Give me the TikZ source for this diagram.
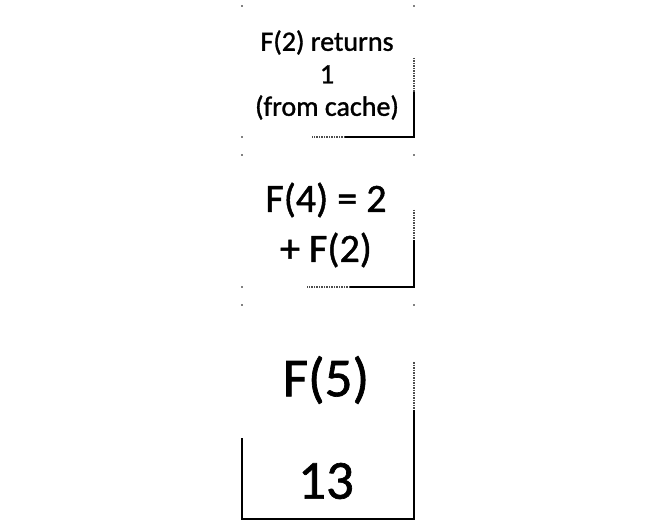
\documentclass[tikz,border=0pt]{standalone}
\usepackage{fontspec}
\setmainfont[FakeBold=1.2]{Carlito}
\begin{document}
\begin{tikzpicture}[x=1pt,y=-1pt,
  edge/.style={line width=1.4pt,black},
  faint/.style={line width=1.1pt,black!70,dash pattern=on 1.5pt off 1pt},
  cornerdot/.style={fill=black,inner sep=0pt,minimum size=1.8pt,circle},
  txt/.style={inner sep=0pt,align=center,text=black}]
\useasboundingbox (0,0) rectangle (654,524);
% corner dots
\foreach \x/\y in {242/6,414/6,242/137,242/155,414/155,242/287,242/305,414/305}
  \node[cornerdot] at (\x,\y) {};
% box 1
\draw[faint] (414,58) -- (414,92);
\draw[edge] (414,92) -- (414,137) -- (345,137);
\draw[faint] (345,137) -- (312,137);
% box 2
\draw[faint] (414,210) -- (414,240);
\draw[edge] (414,240) -- (414,287) -- (350,287);
\draw[faint] (350,287) -- (307,287);
% box 3
\draw[faint] (414,362) -- (414,410);
\draw[edge] (414,410) -- (414,519) -- (242,519) -- (242,438);
% texts
\node[txt,font=\fontsize{28}{32.5}\selectfont] (t1) at (327,75) {F(2) returns\\1\\(from cache)};
\node[txt,font=\fontsize{40}{50}\selectfont] (t2) at (326,225) {F(4) = 2\\+ F(2)};
\node[txt,font=\fontsize{55}{60}\selectfont] (t3) at (326,380) {F(5)};
\node[txt,font=\fontsize{55}{60}\selectfont] (t4) at (326,481) {13};
\end{tikzpicture}
\end{document}
